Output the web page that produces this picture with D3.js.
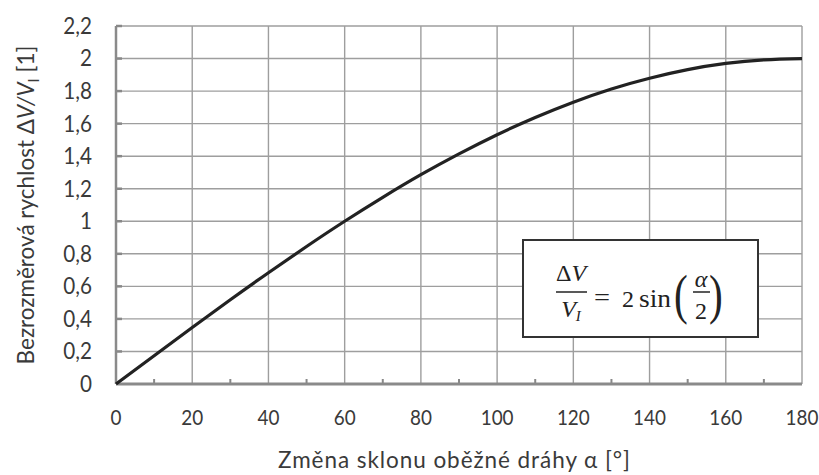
<!DOCTYPE html>
<html>
<head>
<meta charset="utf-8">
<script src="https://cdn.jsdelivr.net/npm/d3@7"></script>
<style>
  body { margin: 0; background: #fff; }
  svg { display: block; }
</style>
</head>
<body>
<div class="chart"></div>
<script>
// angle (deg) and dimensionless delta-v
var angles = [0, 10, 20, 30, 40, 50, 60, 70, 80, 90, 100, 110, 120, 130, 140, 150, 160, 170, 180];
var ratios = [0, 0.174, 0.347, 0.518, 0.684, 0.845, 1.0, 1.147, 1.286, 1.414, 1.532, 1.638, 1.732, 1.813, 1.879, 1.932, 1.970, 1.992, 2.0];
var xTicks = [0, 20, 40, 60, 80, 100, 120, 140, 160, 180];
var xMinor = [10, 30, 50, 70, 90, 110, 130, 150, 170];
var yTicks = [0, 0.2, 0.4, 0.6, 0.8, 1, 1.2, 1.4, 1.6, 1.8, 2, 2.2];

var width = 819,
    height = 475;
var margin = { left: 116, right: 17, top: 26, bottom: 91 };

var svg = d3.select('.chart')
    .append('svg')
    .attr('width', width)
    .attr('height', height);

var x = d3.scaleLinear().domain([0, 180]).range([margin.left, width - margin.right]);
var y = d3.scaleLinear().domain([0, 2.2]).range([height - margin.bottom, margin.top]);

var font = 'Lato, "Open Sans", sans-serif';
var fmt = function(d) { return String(d).replace('.', ','); };

// grid
var grid = svg.append('g').attr('stroke', '#9e9e9e').attr('stroke-width', 1.4);
grid.selectAll('line.v')
    .data(xTicks.slice(1))
    .enter().append('line')
    .attr('x1', function(d) { return x(d); })
    .attr('x2', function(d) { return x(d); })
    .attr('y1', y(0))
    .attr('y2', y(2.2));
grid.selectAll('line.h')
    .data(yTicks.slice(1))
    .enter().append('line')
    .attr('x1', x(0))
    .attr('x2', x(180))
    .attr('y1', function(d) { return y(d); })
    .attr('y2', function(d) { return y(d); });

// minor ticks on the x axis
svg.append('g').selectAll('line')
    .data(xMinor)
    .enter().append('line')
    .attr('x1', function(d) { return x(d); })
    .attr('x2', function(d) { return x(d); })
    .attr('y1', y(0))
    .attr('y2', y(0) - 5)
    .attr('stroke', '#888')
    .attr('stroke-width', 2);

// y ticks inside
svg.append('g').selectAll('line')
    .data(yTicks.slice(1))
    .enter().append('line')
    .attr('x1', x(0))
    .attr('x2', x(0) + 6)
    .attr('y1', function(d) { return y(d); })
    .attr('y2', function(d) { return y(d); })
    .attr('stroke', '#888')
    .attr('stroke-width', 2.5);

// axis lines
svg.append('line')
    .attr('x1', x(0)).attr('x2', x(0))
    .attr('y1', y(0)).attr('y2', y(2.2))
    .attr('stroke', '#8a8a8a').attr('stroke-width', 2.5);
svg.append('line')
    .attr('x1', x(0)).attr('x2', x(180))
    .attr('y1', y(0)).attr('y2', y(0))
    .attr('stroke', '#8a8a8a').attr('stroke-width', 3);

// tick labels (squeezed a little, the original face is narrow)
svg.append('g').selectAll('text')
    .data(yTicks)
    .enter().append('text')
    .attr('transform', function(d) { return 'translate(92,' + y(d) + ') scale(0.92,1)'; })
    .attr('dy', '0.35em')
    .attr('text-anchor', 'end')
    .attr('font-family', font)
    .attr('font-size', 22.5)
    .attr('fill', '#3a3a3a')
    .text(fmt);

svg.append('g').selectAll('text')
    .data(xTicks)
    .enter().append('text')
    .attr('transform', function(d) { return 'translate(' + x(d) + ',417) scale(0.86,1)'; })
    .attr('dy', '0.35em')
    .attr('text-anchor', 'middle')
    .attr('font-family', font)
    .attr('font-size', 22)
    .attr('fill', '#3a3a3a')
    .text(function(d) { return d; });

// curve
var line = d3.line()
    .x(function(d, i) { return x(angles[i]); })
    .y(function(d) { return y(d); })
    .curve(d3.curveNatural);

svg.append('path')
    .datum(ratios)
    .attr('d', line)
    .attr('fill', 'none')
    .attr('stroke', '#222')
    .attr('stroke-width', 3.2);

// axis titles
svg.append('text')
    .attr('x', 454)
    .attr('y', 468)
    .attr('text-anchor', 'middle')
    .attr('font-family', font)
    .attr('font-size', 22.5)
    .attr('textLength', 352)
    .attr('lengthAdjust', 'spacing')
    .attr('fill', '#3a3a3a')
    .text('Změna sklonu oběžné dráhy α [°]');

var yt = svg.append('text')
    .attr('transform', 'translate(34,205) rotate(-90)')
    .attr('text-anchor', 'middle')
    .attr('font-family', font)
    .attr('font-size', 22.5)
    .attr('fill', '#3a3a3a');
yt.append('tspan').text('Bezrozměrová rychlost  Δ');
yt.append('tspan').attr('font-style', 'italic').text('V/V');
yt.append('tspan').attr('font-size', 15).attr('dy', 5).text('I');
yt.append('tspan').attr('dy', -5).text(' [1]');

// formula box
var box = svg.append('g');
box.append('rect')
    .attr('x', 523).attr('y', 240)
    .attr('width', 235).attr('height', 97)
    .attr('fill', '#fff')
    .attr('stroke', '#333')
    .attr('stroke-width', 2);

var serif = '"Liberation Serif", "DejaVu Serif", serif';
function mtext(px, py, size, str, italic, anchor) {
    return box.append('text')
        .attr('x', px).attr('y', py)
        .attr('text-anchor', anchor || 'start')
        .attr('font-family', serif)
        .attr('font-size', size)
        .attr('font-style', italic ? 'italic' : 'normal')
        .attr('fill', '#222')
        .text(str);
}
function bar(x1, x2, py) {
    box.append('line')
        .attr('x1', x1).attr('x2', x2)
        .attr('y1', py).attr('y2', py)
        .attr('stroke', '#222').attr('stroke-width', 1.5);
}

box.append('text')
    .attr('x', 571).attr('y', 281)
    .attr('text-anchor', 'middle')
    .attr('font-family', serif).attr('font-size', 24).attr('fill', '#222')
    .html('Δ<tspan font-style="italic">V</tspan>');
bar(556, 587, 292);
box.append('text')
    .attr('x', 571).attr('y', 317)
    .attr('text-anchor', 'middle')
    .attr('font-family', serif).attr('font-size', 24).attr('fill', '#222')
    .html('<tspan font-style="italic">V</tspan><tspan font-style="italic" font-size="15" dy="4">I</tspan>');

mtext(594, 306, 26, '=').attr('textLength', 16).attr('lengthAdjust', 'spacingAndGlyphs');
mtext(622, 307, 24, '2');
mtext(639, 307, 25, 'sin').attr('textLength', 32).attr('lengthAdjust', 'spacingAndGlyphs');

mtext(674, 313, 55, '(')
    .attr('transform', 'translate(674,313) scale(0.75,1) translate(-674,-313)');
mtext(701, 287, 24, 'α', true, 'middle');
bar(693, 710, 292);
mtext(701, 319, 24, '2', false, 'middle');
mtext(709, 313, 55, ')')
    .attr('transform', 'translate(709,313) scale(0.75,1) translate(-709,-313)');
</script>
</body>
</html>
